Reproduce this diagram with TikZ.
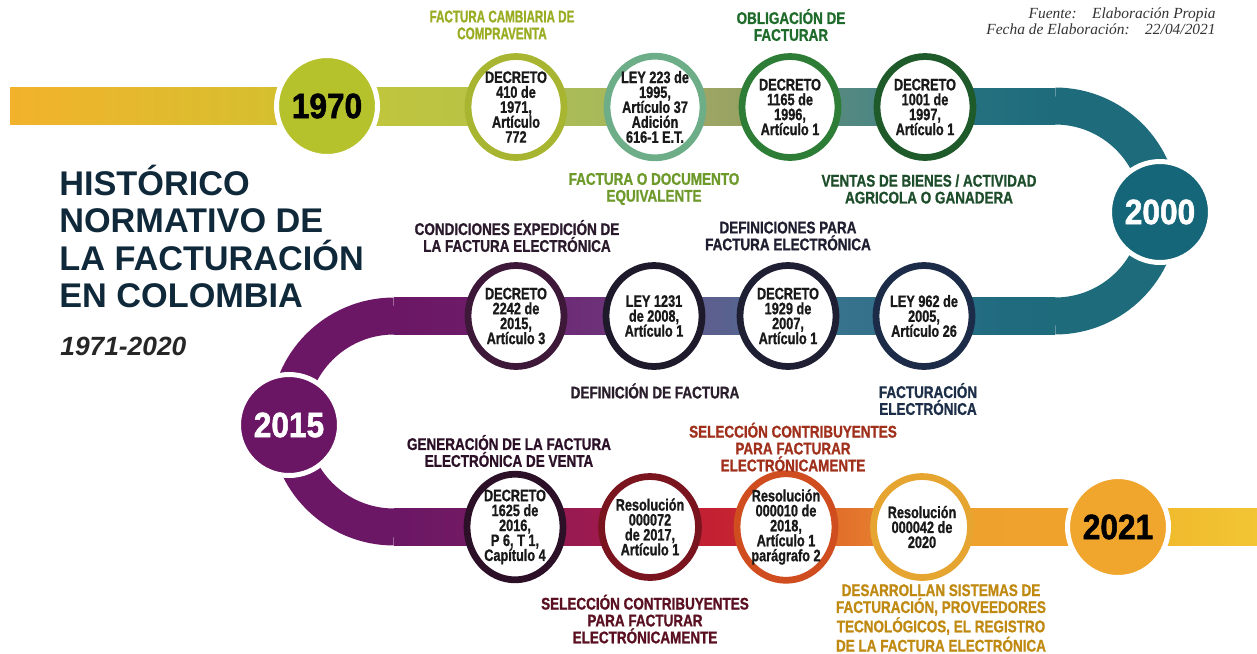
\documentclass[tikz,border=0pt]{standalone}
\usepackage{fontspec}
\setmainfont{Liberation Sans}
\newfontfamily\circfont[FakeStretch=0.8, BoldFeatures={FakeBold=1}]{Liberation Sans}
\newfontfamily\hitofont[FakeStretch=0.77, BoldFeatures={FakeBold=1}]{Liberation Sans}
\newfontfamily\narrowfont[FakeStretch=0.69, BoldFeatures={FakeBold=1}]{Liberation Sans}
\newfontfamily\yearfont[FakeStretch=0.9, BoldFeatures={FakeBold=1.5}]{Liberation Sans}
\newfontfamily\notefont{Liberation Serif}
\usetikzlibrary{calc,backgrounds,shapes.geometric}

\definecolor{anioA}{HTML}{B5C22C}
\definecolor{anioB}{HTML}{166679}
\definecolor{anioC}{HTML}{6A1664}
\definecolor{anioD}{HTML}{F0A52C}
\definecolor{teal}{HTML}{1E6B7C}
\definecolor{morado}{HTML}{6B1766}
\definecolor{titulo}{HTML}{10293A}

\tikzset{
  hito/.style={ellipse, fill=white, line width=0.135cm, minimum width=1.92cm,
    minimum height=2.02cm, inner sep=0pt, align=center, text=black!90,
    font=\hitofont\bfseries\fontsize{9.4}{8.5}\selectfont},
  anio/.style={circle, draw=white, line width=0.1cm, minimum size=2.02cm,
    inner sep=0pt, font=\yearfont\bfseries\fontsize{20}{20}\selectfont},
  nota/.style={align=center, inner sep=0pt,
    font=\circfont\bfseries\fontsize{9.6}{9.6}\selectfont},
  banda/.style={line width=0.74cm},
}

\begin{document}
\begin{tikzpicture}[x=0.02cm,y=-0.02cm]
  \useasboundingbox (0,0) rectangle (1257,653);

  % anios
  \node[anio, fill=anioA, text=black] (y1970) at (327,106) {1970};
  \node[anio, fill=anioB, text=white] (y2000) at (1160,212) {2000};
  \node[anio, fill=anioC, text=white] (y2015) at (289,425) {2015};
  \node[anio, fill=anioD, text=black] (y2021) at (1118,527) {2021};

  % hitos
  \node[hito, draw={rgb,255:red,168;green,181;blue,48}] (t1) at (516,107) {DECRETO\\410 de\\1971,\\Artículo\\772};
  \node[hito, draw={rgb,255:red,109;green,174;blue,136}] (t2) at (655,107) {LEY 223 de\\1995,\\Artículo 37\\Adición\\616-1 E.T.};
  \node[hito, draw={rgb,255:red,46;green,125;blue,54}] (t3) at (790,107) {DECRETO\\1165 de\\1996,\\Artículo 1};
  \node[hito, draw={rgb,255:red,31;green,90;blue,43}] (t4) at (925,107) {DECRETO\\1001 de\\1997,\\Artículo 1};

  \node[hito, draw={rgb,255:red,61;green,24;blue,56}] (m1) at (516,316) {DECRETO\\2242 de\\2015,\\Artículo 3};
  \node[hito, draw={rgb,255:red,30;green,26;blue,44}] (m2) at (654,316) {LEY 1231\\de 2008,\\Artículo 1};
  \node[hito, draw={rgb,255:red,31;green,31;blue,51}] (m3) at (788,316) {DECRETO\\1929 de\\2007,\\Artículo 1};
  \node[hito, draw={rgb,255:red,28;green,44;blue,72}] (m4) at (924,316) {LEY 962 de\\2005,\\Artículo 26};

  \node[hito, draw={rgb,255:red,44;green,16;blue,40}] (b1) at (515,527) {DECRETO\\1625 de\\2016,\\P 6, T 1,\\Capítulo 4};
  \node[hito, draw={rgb,255:red,122;green,21;blue,32}] (b2) at (650,527) {Resolución\\000072\\de 2017,\\Artículo 1};
  \node[hito, draw={rgb,255:red,207;green,77;blue,30}] (b3) at (786,527) {Resolución\\000010 de\\2018,\\Artículo 1\\parágrafo 2};
  \node[hito, draw={rgb,255:red,230;green,164;blue,49}] (b4) at (922,527) {Resolución\\000042 de\\2020};

  % banda
  \begin{scope}[on background layer]
    \coordinate (inicio) at (10,106);
    \coordinate (codoA) at (1055,106);
    \coordinate (codoB) at (1055,316);
    \coordinate (codoC) at (394,316);
    \coordinate (codoD) at (394,527);
    \coordinate (fin) at (1257,527);
    \shade[left color={rgb,255:red,242;green,178;blue,43}, right color={rgb,255:red,208;green,194;blue,48}]
      ($(inicio)+(0,-18.5)$) rectangle ($(y1970.center)+(0,18.5)$);
    \shade[left color={rgb,255:red,196;green,198;blue,58}, right color={rgb,255:red,182;green,194;blue,71}]
      ($(y1970.center)+(0,-18.5)$) rectangle ($(t1.center)+(0,18.5)$);
    \shade[left color={rgb,255:red,174;green,190;blue,82}, right color={rgb,255:red,164;green,182;blue,96}]
      ($(t1.center)+(0,-18.5)$) rectangle ($(t2.center)+(0,18.5)$);
    \shade[left color={rgb,255:red,166;green,171;blue,102}, right color={rgb,255:red,143;green,157;blue,96}]
      ($(t2.center)+(0,-18.5)$) rectangle ($(t3.center)+(0,18.5)$);
    \shade[left color={rgb,255:red,98;green,143;blue,124}, right color={rgb,255:red,63;green,128;blue,134}]
      ($(t3.center)+(0,-18.5)$) rectangle ($(t4.center)+(0,18.5)$);
    \shade[left color={rgb,255:red,42;green,116;blue,130}, right color=teal]
      ($(t4.center)+(0,-18.5)$) rectangle ($(codoA)+(0,18.5)$);
    \draw[banda, teal] (codoA) arc[start angle=-90, end angle=90, radius=105];

    \shade[left color={rgb,255:red,38;green,108;blue,132}, right color=teal]
      ($(m4.center)+(0,-18.5)$) rectangle ($(codoB)+(0,18.5)$);
    \shade[left color={rgb,255:red,62;green,118;blue,144}, right color={rgb,255:red,46;green,110;blue,136}]
      ($(m3.center)+(0,-18.5)$) rectangle ($(m4.center)+(0,18.5)$);
    \shade[left color={rgb,255:red,102;green,86;blue,140}, right color={rgb,255:red,78;green,108;blue,146}]
      ($(m2.center)+(0,-18.5)$) rectangle ($(m3.center)+(0,18.5)$);
    \shade[left color={rgb,255:red,110;green,36;blue,114}, right color={rgb,255:red,108;green,58;blue,126}]
      ($(m1.center)+(0,-18.5)$) rectangle ($(m2.center)+(0,18.5)$);
    \shade[left color=morado, right color={rgb,255:red,110;green,28;blue,106}]
      ($(codoC)+(0,-18.5)$) rectangle ($(m1.center)+(0,18.5)$);
    \draw[banda, morado] (codoC) arc[start angle=-90, end angle=-270, radius=105.5];

    \shade[left color=morado, right color={rgb,255:red,118;green,26;blue,96}]
      ($(codoD)+(0,-18.5)$) rectangle ($(b1.center)+(0,18.5)$);
    \shade[left color={rgb,255:red,140;green,26;blue,88}, right color={rgb,255:red,168;green,26;blue,71}]
      ($(b1.center)+(0,-18.5)$) rectangle ($(b2.center)+(0,18.5)$);
    \shade[left color={rgb,255:red,188;green,26;blue,54}, right color={rgb,255:red,203;green,42;blue,46}]
      ($(b2.center)+(0,-18.5)$) rectangle ($(b3.center)+(0,18.5)$);
    \shade[left color={rgb,255:red,221;green,90;blue,40}, right color={rgb,255:red,233;green,143;blue,48}]
      ($(b3.center)+(0,-18.5)$) rectangle ($(b4.center)+(0,18.5)$);
    \shade[left color={rgb,255:red,238;green,159;blue,46}, right color=anioD]
      ($(b4.center)+(0,-18.5)$) rectangle ($(y2021.center)+(0,18.5)$);
    \shade[left color={rgb,255:red,240;green,181;blue,42}, right color={rgb,255:red,242;green,197;blue,52}]
      ($(y2021.center)+(0,-18.5)$) rectangle ($(fin)+(0,18.5)$);
  \end{scope}

  % notas
  \node[nota, font=\narrowfont\bfseries\fontsize{9.6}{9.6}\selectfont, text={rgb,255:red,154;green,172;blue,34}] (n1) at (502,25) {FACTURA CAMBIARIA DE\\COMPRAVENTA};
  \node[nota, text={rgb,255:red,30;green,107;blue,43}] (n2) at (791,25) {OBLIGACIÓN DE\\FACTURAR};
  \node[nota, text={rgb,255:red,110;green,154;blue,44}] (n3) at (654,189) {FACTURA O DOCUMENTO\\EQUIVALENTE};
  \node[nota, text={rgb,255:red,30;green,77;blue,43}] (n4) at (929,189) {VENTAS DE BIENES / ACTIVIDAD\\AGRICOLA O GANADERA};
  \node[nota, text={rgb,255:red,42;green,26;blue,44}] (n5) at (517,236) {CONDICIONES EXPEDICIÓN DE\\LA FACTURA ELECTRÓNICA};
  \node[nota, text={rgb,255:red,30;green,30;blue,48}] (n6) at (788,236) {DEFINICIONES PARA\\FACTURA ELECTRÓNICA};
  \node[nota, text={rgb,255:red,42;green,30;blue,44}] (n7) at (655,391) {DEFINICIÓN DE FACTURA};
  \node[nota, text={rgb,255:red,28;green,46;blue,72}] (n8) at (928,399) {FACTURACIÓN\\ELECTRÓNICA};
  \node[nota, text={rgb,255:red,44;green,16;blue,40}] (n9) at (509,451) {GENERACIÓN DE LA FACTURA\\ELECTRÓNICA DE VENTA};
  \node[nota, text={rgb,255:red,160;green,48;blue,28}] (n10) at (793,447) {SELECCIÓN CONTRIBUYENTES\\PARA FACTURAR\\ELECTRÓNICAMENTE};
  \node[nota, text={rgb,255:red,90;green,16;blue,32}] (n11) at (645,619) {SELECCIÓN CONTRIBUYENTES\\PARA FACTURAR\\ELECTRÓNICAMENTE};
  \node[nota, text={rgb,255:red,192;green,138;blue,18}] (n12) at (941,618) {DESARROLLAN SISTEMAS DE\\FACTURACIÓN, PROVEEDORES\\TECNOLÓGICOS, EL REGISTRO\\DE LA FACTURA ELECTRÓNICA};

  % titulo
  \node[anchor=north west, align=left, inner sep=0pt, text=titulo,
    font=\bfseries\fontsize{19.5}{21.2}\selectfont] (titulo) at (59,165)
    {HISTÓRICO\\NORMATIVO DE\\LA FACTURACIÓN\\EN COLOMBIA};
  \node[anchor=base west, inner sep=0pt, text=black!85,
    font=\bfseries\itshape\fontsize{15}{15}\selectfont] (periodo) at (60,355) {1971-2020};
  \node[anchor=north east, align=right, inner sep=0pt, text=black!80,
    font=\notefont\itshape\fontsize{8.8}{9.6}\selectfont] (fuente) at (1216,7)
    {Fuente:\hspace{1em}Elaboración Propia\\Fecha de Elaboración:\hspace{1em}22/04/2021};
\end{tikzpicture}
\end{document}
